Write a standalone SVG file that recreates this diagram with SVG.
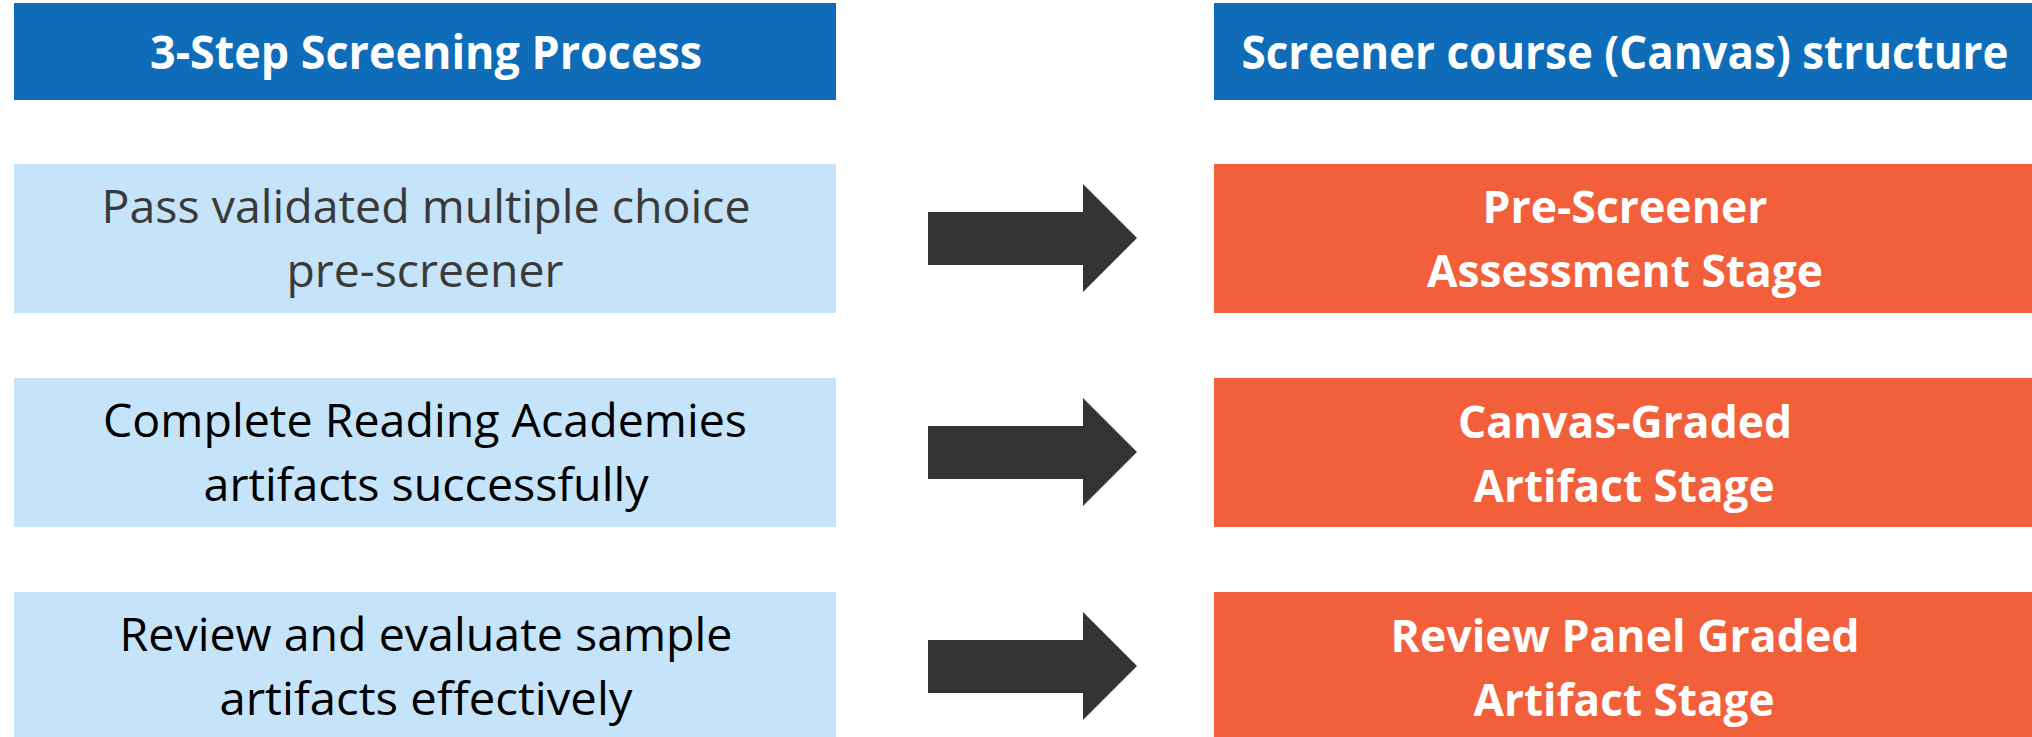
<svg xmlns="http://www.w3.org/2000/svg" width="2032" height="737" viewBox="0 0 2032 737">
<defs>
<style>
.hdr{fill:#0E6CB8}
.step{fill:#C5E3F9}
.stage{fill:#F2603B}
.arrow{fill:#363432}
text{font-family:"Open Sans","Noto Sans","Liberation Sans",sans-serif;text-anchor:middle}
.ht{fill:#FFFFFF;font-size:47px;font-weight:bold}
.st{fill:#000000;font-size:45px}
.st1{fill:#3A3A3A}
.gt{fill:#FFFFFF;font-size:45px;font-weight:bold}
</style>
</defs>
<rect x="0" y="0" width="2032" height="737" fill="#FFFFFF"/>
<g id="header-left">
<rect class="hdr" x="14" y="3" width="822" height="97"/>
<text class="ht" x="426" y="69" textLength="552" lengthAdjust="spacingAndGlyphs">3-Step Screening Process</text>
</g>
<g id="header-right">
<rect class="hdr" x="1214" y="3" width="818" height="97"/>
<text class="ht" x="1625" y="69" textLength="767" lengthAdjust="spacingAndGlyphs">Screener course (Canvas) structure</text>
</g>
<g id="step1">
<rect class="step" x="14" y="164" width="822" height="149"/>
<text class="st st1" x="426" y="223" textLength="649" lengthAdjust="spacingAndGlyphs">Pass validated multiple choice</text>
<text class="st st1" x="425" y="287" textLength="277" lengthAdjust="spacingAndGlyphs">pre-screener</text>
</g>
<g id="step2">
<rect class="step" x="14" y="378" width="822" height="149"/>
<text class="st" x="425" y="437" textLength="644" lengthAdjust="spacingAndGlyphs">Complete Reading Academies</text>
<text class="st" x="426" y="501" textLength="445" lengthAdjust="spacingAndGlyphs">artifacts successfully</text>
</g>
<g id="step3">
<rect class="step" x="14" y="592" width="822" height="149"/>
<text class="st" x="426" y="651" textLength="613" lengthAdjust="spacingAndGlyphs">Review and evaluate sample</text>
<text class="st" x="426" y="715" textLength="413" lengthAdjust="spacingAndGlyphs">artifacts effectively</text>
</g>
<g id="stage1">
<rect class="stage" x="1214" y="164" width="818" height="149"/>
<text class="gt" x="1625" y="223" textLength="285" lengthAdjust="spacingAndGlyphs">Pre-Screener</text>
<text class="gt" x="1625" y="287" textLength="396" lengthAdjust="spacingAndGlyphs">Assessment Stage</text>
</g>
<g id="stage2">
<rect class="stage" x="1214" y="378" width="818" height="149"/>
<text class="gt" x="1625" y="438" textLength="334" lengthAdjust="spacingAndGlyphs">Canvas-Graded</text>
<text class="gt" x="1624" y="502" textLength="301" lengthAdjust="spacingAndGlyphs">Artifact Stage</text>
</g>
<g id="stage3">
<rect class="stage" x="1214" y="592" width="818" height="149"/>
<text class="gt" x="1625" y="652" textLength="469" lengthAdjust="spacingAndGlyphs">Review Panel Graded</text>
<text class="gt" x="1624" y="716" textLength="301" lengthAdjust="spacingAndGlyphs">Artifact Stage</text>
</g>
<g id="connectors">
<polygon class="arrow" points="928,212 1083,212 1083,184 1137,238 1083,292 1083,265 928,265"/>
<polygon class="arrow" points="928,426 1083,426 1083,398 1137,452 1083,506 1083,479 928,479"/>
<polygon class="arrow" points="928,640 1083,640 1083,612 1137,666 1083,720 1083,693 928,693"/>
</g>
</svg>
